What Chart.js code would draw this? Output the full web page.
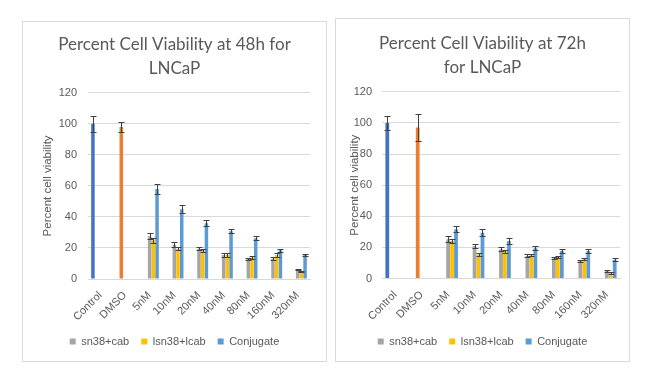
<!DOCTYPE html>
<html><head><meta charset="utf-8">
<script src="https://cdn.jsdelivr.net/npm/chart.js@4.4.0/dist/chart.umd.min.js"></script>
<style>
html,body{margin:0;padding:0;background:#fff;width:650px;height:380px;overflow:hidden}
.box{position:absolute;border:1px solid #d9d9d9;box-sizing:border-box;background:#fff}
canvas{display:block}
</style></head><body>
<div class="box" style="left:22px;top:21px;width:305px;height:341px"><canvas id="c1" width="303" height="339"></canvas></div>
<div class="box" style="left:335px;top:18px;width:295px;height:344px"><canvas id="c2" width="293" height="342"></canvas></div>
<script>
const categories = ['Control','DMSO','5nM','10nM','20nM','40nM','80nM','160nM','320nM'];
const seriesNames = ['Control','DMSO','sn38+cab','lsn38+lcab','Conjugate'];
const yTicks = [0,20,40,60,80,100,120];

// 48h
const control48    = [100, null, null, null, null, null, null, null, null];
const controlErr48 = [5, null, null, null, null, null, null, null, null];
const dmso48       = [null, 98, null, null, null, null, null, null, null];
const dmsoErr48    = [null, 3.5, null, null, null, null, null, null, null];
const sn38cab48       = [null, null, 27.5, 22, 19.5, 15.5, 13, 13, 6];
const sn38cabErr48    = [null, null, 2, 1.6, 1, 1, 0.8, 1, 0.4];
const lsn38lcab48     = [null, null, 25, 19.5, 18.5, 15.5, 14, 15.5, 5];
const lsn38lcabErr48  = [null, null, 1.5, 1, 1, 1, 0.8, 1.5, 0.4];
const conjugate48     = [null, null, 58, 45, 36, 30.8, 26.3, 18.5, 15.5];
const conjugateErr48  = [null, null, 3, 2.4, 2, 1.4, 1.4, 1.1, 0.6];

// 72h
const control72    = [100, null, null, null, null, null, null, null, null];
const controlErr72 = [4.6, null, null, null, null, null, null, null, null];
const dmso72       = [null, 97, null, null, null, null, null, null, null];
const dmsoErr72    = [null, 8.6, null, null, null, null, null, null, null];
const sn38cab72       = [null, null, 25.2, 20.9, 18.8, 14.5, 13, 11.5, 4.9];
const sn38cabErr72    = [null, null, 1.9, 1.5, 1.2, 1, 0.6, 0.7, 0.5];
const lsn38lcab72     = [null, null, 24.1, 15.4, 17.3, 15, 13.6, 12.6, 3.6];
const lsn38lcabErr72  = [null, null, 1.3, 1.2, 1, 0.8, 0.6, 0.8, 0.4];
const conjugate72     = [null, null, 31.6, 29.4, 24.1, 19.4, 17.7, 17.7, 12];
const conjugateErr72  = [null, null, 1.9, 2.2, 1.7, 1.3, 1.5, 1.5, 1];

const colors = ['#4472C4','#ED7D31','#A5A5A5','#FFC000','#5B9BD5'];
const textColor = '#595959';
const gridColor = '#d9d9d9';
const FONT = "'Liberation Sans', Arial, sans-serif";

const errorBars = {
  id: 'errorBars',
  afterDatasetsDraw(chart) {
    const ctx = chart.ctx, ys = chart.scales.y;
    chart.data.datasets.forEach((ds, i) => {
      const meta = chart.getDatasetMeta(i);
      if (!ds.errors) return;
      meta.data.forEach((bar, j) => {
        const v = ds.data[j], e = ds.errors[j];
        if (v == null || e == null) return;
        const cx = Math.round(bar.x) + 0.5;
        const yt = Math.round(ys.getPixelForValue(v + e)) + 0.5;
        const yb = Math.round(ys.getPixelForValue(v - e)) + 0.5;
        ctx.save();
        ctx.strokeStyle = '#404040';
        ctx.lineWidth = 1;
        ctx.beginPath();
        ctx.moveTo(cx, yt); ctx.lineTo(cx, yb);
        ctx.moveTo(cx - 3, yt); ctx.lineTo(cx + 3, yt);
        ctx.moveTo(cx - 3, yb); ctx.lineTo(cx + 3, yb);
        ctx.stroke();
        ctx.restore();
      });
    });
  }
};

function makeChart(id, titleLines, sets, L) {
  const datasets = sets.map((s, i) => ({
    label: seriesNames[i],
    data: s[0],
    errors: s[1],
    backgroundColor: colors[i],
    borderWidth: 0,
    categoryPercentage: 0.75,
    barPercentage: 0.95
  }));
  return new Chart(document.getElementById(id), {
    type: 'bar',
    data: { labels: categories, datasets },
    options: {
      responsive: false,
      animation: false,
      layout: { padding: { left: 0, right: 0, top: 0, bottom: L.bottom } },
      plugins: {
        title: {
          display: true, text: titleLines, color: textColor,
          font: { family: 'Lato', size: 17, weight: 400, lineHeight: 1.45 },
          padding: { top: L.titleTop, bottom: L.titleBottom }
        },
        legend: {
          position: 'bottom',
          labels: {
            filter: item => item.datasetIndex >= 2,
            boxWidth: 6, boxHeight: 6, padding: 12, color: textColor,
            font: { family: FONT, size: 11 }
          }
        },
        tooltip: { enabled: false }
      },
      scales: {
        x: {
          grid: { display: false },
          border: { display: true, color: gridColor },
          ticks: { color: textColor, font: { family: FONT, size: 11 }, maxRotation: 45, minRotation: 45, autoSkip: false, padding: 2 },
          afterFit: s => { s.height = L.xHeight; }
        },
        y: {
          min: 0, max: 120,
          afterBuildTicks: s => { s.ticks = yTicks.map(v => ({ value: v })); },
          grid: { color: gridColor, drawTicks: false },
          border: { display: false },
          ticks: { color: textColor, font: { family: FONT, size: 11 }, padding: L.tickPad },
          title: { display: true, text: 'Percent cell viability', color: textColor, font: { family: FONT, size: 11.5 }, padding: { top: L.yTitlePad, bottom: 0 } },
          afterFit: s => { s.width = L.yWidth; }
        },
        rightSpace: {
          type: 'linear', position: 'right', display: true,
          grid: { display: false }, border: { display: false },
          ticks: { display: false },
          afterFit: s => { s.width = L.right; }
        }
      }
    },
    plugins: [errorBars]
  });
}

makeChart('c1', ['Percent Cell Viability at 48h for', 'LNCaP'], [
  [control48, controlErr48], [dmso48, dmsoErr48], [sn38cab48, sn38cabErr48],
  [lsn38lcab48, lsn38lcabErr48], [conjugate48, conjugateErr48]
], { right: 16, bottom: 4, titleTop: 10, titleBottom: 11.5, xHeight: 45, yWidth: 65, tickPad: 11, yTitlePad: 18 });

makeChart('c2', ['Percent Cell Viability at 72h', 'for LNCaP'], [
  [control72, controlErr72], [dmso72, dmsoErr72], [sn38cab72, sn38cabErr72],
  [lsn38lcab72, lsn38lcabErr72], [conjugate72, conjugateErr72]
], { right: 9, bottom: 4, titleTop: 12, titleBottom: 11.5, xHeight: 45.5, yWidth: 46, tickPad: 10, yTitlePad: 12 });
</script>
</body></html>
